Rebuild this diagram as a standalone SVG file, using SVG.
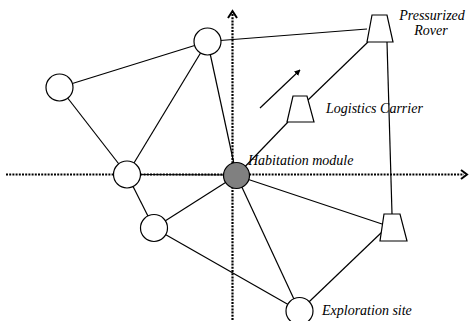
<svg xmlns="http://www.w3.org/2000/svg" width="469" height="321" viewBox="0 0 469 321">
<style>
.ln{stroke:#000;stroke-width:1.2;fill:none}
.ax{stroke:#000;stroke-width:2.2;stroke-dasharray:2 1.2;fill:none}
.chev{stroke:#000;stroke-width:2;fill:none}
.nd{fill:#fff;stroke:#000;stroke-width:1.2}
.hab{fill:#808080;stroke:#000;stroke-width:1.2}
.lbl{font-family:"Liberation Serif","Times New Roman",serif;font-style:italic;font-size:14px;fill:#000}
</style>
<defs>
<marker id="ah" viewBox="0 0 10 10" refX="9" refY="5" markerWidth="6" markerHeight="6" orient="auto" markerUnits="userSpaceOnUse">
<path d="M0,0 L10,5 L0,10 Z" fill="#000"/>
</marker>
</defs>
<g id="axes">
<line class="ax" x1="232.5" y1="14" x2="232.5" y2="321"/>
<polyline class="chev" points="228,18 232.5,11 237,18"/>
<line class="ax" x1="6" y1="174.5" x2="464" y2="174.5"/>
<polyline class="chev" points="461,170 467,174.5 461,179"/>
</g>
<g id="connectors">
<line class="ln" x1="59.5" y1="87.5" x2="207.5" y2="41.5"/>
<line class="ln" x1="59.5" y1="87.5" x2="127" y2="174.5"/>
<line class="ln" x1="207.5" y1="41.5" x2="127" y2="174.5"/>
<line class="ln" x1="207.5" y1="41.5" x2="236.5" y2="175.5"/>
<line class="ln" x1="207.5" y1="41.5" x2="367" y2="29"/>
<line class="ln" x1="127" y1="174.5" x2="236.5" y2="175"/>
<line class="ln" x1="127" y1="174.5" x2="154" y2="228"/>
<line class="ln" x1="154" y1="228" x2="236.5" y2="175.5"/>
<line class="ln" x1="154" y1="228" x2="299.5" y2="311"/>
<line class="ln" x1="236.5" y1="175.5" x2="299.5" y2="311"/>
<line class="ln" x1="236.5" y1="175.5" x2="382" y2="224"/>
<line class="ln" x1="299.5" y1="311" x2="382" y2="232"/>
<line class="ln" x1="236.5" y1="175.5" x2="288" y2="122"/>
<line class="ln" x1="308" y1="100" x2="368" y2="42"/>
<line class="ln" x1="387" y1="42" x2="392" y2="214"/>
<line class="ln" x1="260" y1="108" x2="300" y2="70" marker-end="url(#ah)"/>
</g>
<g id="node-top"><circle class="nd" cx="207.5" cy="41.5" r="13.5"/></g>
<g id="node-left"><circle class="nd" cx="59.5" cy="87.5" r="13.5"/></g>
<g id="node-mid-left"><circle class="nd" cx="127" cy="174.5" r="13.5"/></g>
<g id="node-lower"><circle class="nd" cx="154" cy="228" r="13.5"/></g>
<g id="habitation-module">
<circle class="hab" cx="236.5" cy="175.5" r="13"/>
<text class="lbl" x="248" y="165">Habitation module</text>
</g>
<g id="exploration-site">
<circle class="nd" cx="299.5" cy="311" r="13.5"/>
<text class="lbl" x="322" y="315">Exploration site</text>
</g>
<g id="pressurized-rover">
<polygon class="nd" points="372,15 387,15 393,42 367,42"/>
<text class="lbl" x="432" y="20" text-anchor="middle">Pressurized</text>
<text class="lbl" x="431" y="35" text-anchor="middle">Rover</text>
</g>
<g id="logistics-carrier">
<polygon class="nd" points="293,96 307,96 314,122 287,122"/>
<text class="lbl" x="326" y="113">Logistics Carrier</text>
</g>
<g id="rover-lower-right">
<polygon class="nd" points="384,214 400,214 407,241 380,241"/>
</g>
</svg>
